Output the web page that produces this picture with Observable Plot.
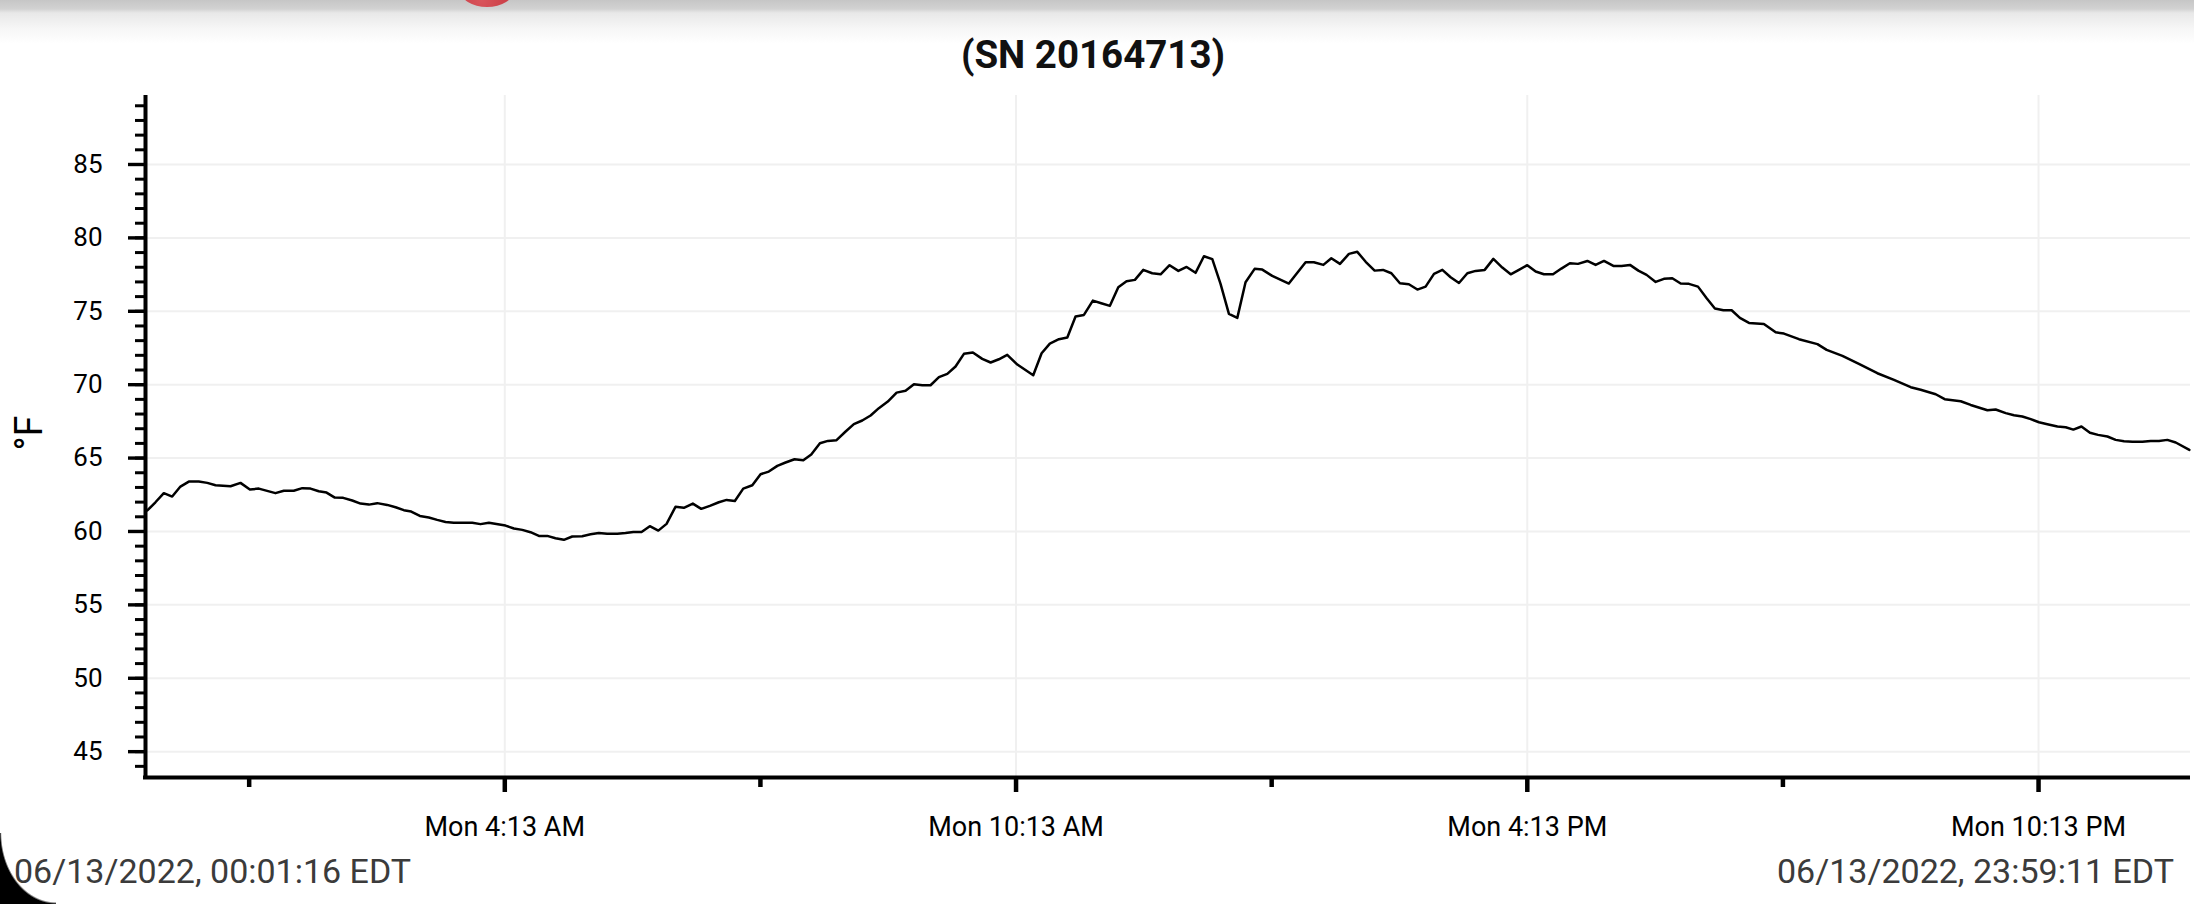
<!DOCTYPE html>
<html>
<head>
<meta charset="utf-8">
<script src="https://cdn.jsdelivr.net/npm/d3@7"></script>
<script src="https://cdn.jsdelivr.net/npm/@observablehq/plot@0.6"></script>
<style>
html,body{margin:0;padding:0;background:#fff;width:2194px;height:904px;overflow:hidden;font-family:Roboto,sans-serif;}
#wrap{position:relative;width:2194px;height:904px;overflow:hidden;}
#chart{position:absolute;left:0;top:0;}
.topbar{position:absolute;left:0;top:0;width:2194px;height:44px;background:linear-gradient(#c6c6c6 0px,#d2d2d2 9px,#e8e8e8 13px,#f6f6f6 28px,#ffffff 44px);}
.dot{position:absolute;left:460px;top:-27px;width:54px;height:34px;border-radius:50%;background:radial-gradient(circle at 40% 80%,#d9545b,#c2323b);}
.title{position:absolute;top:33px;left:0;width:2186px;text-align:center;font-family:Roboto,sans-serif;font-weight:700;font-size:38.5px;line-height:44px;color:#111;}
.ylab{position:absolute;left:29px;top:433px;transform:translate(-50%,-50%) rotate(-90deg);font-family:Roboto,sans-serif;font-size:38px;line-height:40px;color:#000;white-space:nowrap;}
.foot{position:absolute;top:851px;font-family:Roboto,sans-serif;font-size:34px;line-height:40px;color:#3b3b3b;white-space:nowrap;}
.corner{position:absolute;left:0;bottom:0;width:56px;height:71px;background:radial-gradient(ellipse 56px 71px at 100% 0%,rgba(0,0,0,0) 97%,#000 100%);}
</style>
</head>
<body>
<div id="wrap">
  <div id="chart"></div>
  <div class="topbar"></div>
  <div class="dot"></div>
  <div class="title">(SN 20164713)</div>
  <div class="ylab">°F</div>
  <div class="foot" style="left:14px;">06/13/2022, 00:01:16 EDT</div>
  <div class="foot" style="right:20px;">06/13/2022, 23:59:11 EDT</div>
  <div class="corner"></div>
</div>
<script>
// minutes after midnight, 06/13/2022
const minutes = [
  1.3, 7.0, 12.9, 18.8, 24.6, 30.5, 37.5, 43.5, 49.3, 59.9, 66.9, 73.5, 79.8, 91.5, 97.4, 104.4,
  110.4, 116.2, 122.0, 127.5, 133.3, 139.2, 145.6, 151.4, 157.3, 163.2, 170.2, 176.1, 181.9, 187.1,
  193.2, 199.5, 205.4, 211.3, 217.1, 230.1, 235.9, 241.8, 253.5, 259.4, 265.3, 271.1, 277.0, 282.9,
  288.7, 294.6, 300.5, 307.5, 313.4, 319.2, 325.1, 332.2, 338.0, 343.5, 349.3, 355.1, 361.1, 366.9,
  373.2, 379.1, 385.4, 391.3, 397.4, 403.7, 409.2, 415.0, 420.9, 427.3, 433.1, 438.9, 444.9, 450.7,
  457.0, 463.2, 468.8, 474.9, 480.5, 486.6, 493.0, 498.8, 504.7, 510.6, 516.4, 522.7, 528.9, 535.2,
  541.1, 547.0, 552.8, 558.7, 564.6, 570.4, 576.3, 582.6, 589.2, 595.1, 600.9, 606.8, 613.9, 625.1,
  631.0, 636.8, 643.2, 649.1, 654.9, 660.8, 667.1, 673.0, 679.1, 685.0, 690.8, 696.7, 702.6, 708.9,
  714.8, 721.1, 727.3, 733.1, 739.4, 745.3, 751.2, 757.0, 762.9, 768.8, 774.6, 781.0, 786.4, 793.4,
  805.1, 816.9, 822.7, 829.4, 835.0, 841.1, 847.4, 853.3, 859.2, 865.5, 871.4, 877.3, 883.3, 889.6,
  895.6, 901.4, 907.3, 913.2, 919.0, 924.9, 930.8, 936.6, 943.0, 949.1, 955.4, 961.3, 967.1, 973.0,
  978.9, 984.7, 991.1, 997.0, 1003.0, 1008.7, 1015.3, 1021.1, 1027.0, 1033.6, 1039.4, 1045.3, 1051.2,
  1057.0, 1063.4, 1069.2, 1075.1, 1081.0, 1086.8, 1093.2, 1099.3, 1105.1, 1111.1, 1116.9, 1122.7,
  1129.1, 1139.6, 1147.9, 1153.7, 1164.3, 1177.3, 1183.8, 1194.9, 1206.5, 1219.5, 1231.2, 1243.0,
  1250.0, 1260.6, 1266.9, 1278.2, 1285.2, 1297.0, 1302.8, 1309.9, 1315.7, 1321.6, 1327.5, 1333.3,
  1339.2, 1346.3, 1352.1, 1357.5, 1363.2, 1369.2, 1374.9, 1381.5, 1387.3, 1393.2, 1399.1, 1406.1,
  1412.0, 1417.8, 1423.7, 1429.6, 1439.2
];
const tempF = [
  61.43, 61.99, 62.61, 62.38, 63.06, 63.40, 63.40, 63.31, 63.15, 63.08, 63.31, 62.86, 62.92, 62.61, 62.77, 62.77,
  62.95, 62.92, 62.74, 62.65, 62.31, 62.29, 62.11, 61.90, 61.83, 61.93, 61.81, 61.65, 61.45, 61.36,
  61.06, 60.95, 60.79, 60.65, 60.59, 60.59, 60.50, 60.59, 60.40, 60.20, 60.11, 59.95, 59.70, 59.70,
  59.54, 59.43, 59.66, 59.68, 59.81, 59.90, 59.84, 59.84, 59.90, 59.97, 59.97, 60.36, 60.06, 60.52,
  61.68, 61.61, 61.90, 61.54, 61.74, 61.99, 62.15, 62.08, 62.92, 63.15, 63.90, 64.08, 64.47, 64.70,
  64.92, 64.85, 65.24, 66.01, 66.17, 66.22, 66.81, 67.31, 67.56, 67.90, 68.40, 68.85, 69.46, 69.58,
  70.03, 69.96, 69.96, 70.51, 70.74, 71.24, 72.10, 72.19, 71.76, 71.51, 71.73, 72.03, 71.37, 70.64,
  72.14, 72.80, 73.10, 73.21, 74.64, 74.75, 75.73, 75.55, 75.37, 76.64, 77.05, 77.14, 77.82, 77.59,
  77.52, 78.14, 77.75, 78.02, 77.62, 78.75, 78.55, 76.87, 74.82, 74.55, 76.98, 77.89, 77.84, 77.41,
  76.89, 78.34, 78.34, 78.16, 78.61, 78.23, 78.91, 79.05, 78.37, 77.77, 77.82, 77.59, 76.91, 76.84,
  76.48, 76.68, 77.55, 77.82, 77.32, 76.93, 77.59, 77.75, 77.82, 78.57, 77.98, 77.52, 77.82, 78.14,
  77.71, 77.52, 77.52, 77.91, 78.27, 78.23, 78.43, 78.16, 78.43, 78.09, 78.09, 78.16, 77.77,
  77.48, 77.00, 77.21, 77.25, 76.89, 76.87, 76.68, 75.89, 75.19, 75.07, 75.07, 74.55,
  74.21, 74.14, 73.57, 73.48, 73.10, 72.76, 72.37, 71.96, 71.42, 70.78, 70.33, 69.83,
  69.65, 69.35, 69.01, 68.87, 68.62, 68.26, 68.31, 68.06, 67.92, 67.83, 67.65, 67.44,
  67.31, 67.15, 67.10, 66.94, 67.15, 66.72, 66.58, 66.47, 66.24, 66.15, 66.11, 66.11,
  66.17, 66.17, 66.24, 66.06, 65.56
];
const xTickMinutes = [253, 613, 973, 1333];
const xTickLabels = ["Mon 4:13 AM", "Mon 10:13 AM", "Mon 4:13 PM", "Mon 10:13 PM"];
const xMinorMinutes = [73, 433, 793, 1153];
const yTicks = [45, 50, 55, 60, 65, 70, 75, 80, 85];
const yMinorTicks = d3.range(44, 90, 1);

const base = new Date(2022, 5, 13, 0, 0, 0).getTime();
const toDate = m => new Date(base + m * 60000);
const data = minutes.map((m, i) => ({t: toDate(m), v: tempF[i]}));
const xMajor = xTickMinutes.map(toDate);
const xMinor = xMinorMinutes.map(toDate);
const labelMap = new Map(xMajor.map((d, i) => [+d, xTickLabels[i]]));
const yDomain = [43.24, 89.70];

const chart = Plot.plot({
  width: 2194,
  height: 904,
  marginLeft: 145,
  marginRight: 4,
  marginTop: 95,
  marginBottom: 127,
  style: {fontFamily: "Roboto, sans-serif", color: "#000", background: "transparent", overflow: "visible"},
  x: {type: "time", domain: [toDate(0), toDate(1440)]},
  y: {domain: yDomain},
  marks: [
    Plot.gridY(yTicks, {stroke: "#f0f0f0", strokeOpacity: 1, strokeWidth: 2}),
    Plot.gridX(xMajor, {stroke: "#f0f0f0", strokeOpacity: 1, strokeWidth: 2}),
    Plot.line(data, {x: "t", y: "v", stroke: "#000", strokeWidth: 2.5, strokeLinejoin: "round"}),
    Plot.axisY(yMinorTicks, {tickSize: 10, strokeWidth: 3, tickFormat: () => "", label: null}),
    Plot.axisY(yTicks, {tickSize: 17, tickPadding: 26, strokeWidth: 3.4, fontSize: 26, label: null}),
    Plot.axisX(xMinor, {tickSize: 10, strokeWidth: 4.5, tickFormat: () => "", label: null}),
    Plot.axisX(xMajor, {tickSize: 15, tickPadding: 24, strokeWidth: 4.5, fontSize: 27, tickFormat: d => labelMap.get(+d), label: null}),
    Plot.ruleX([toDate(0)], {stroke: "#000", strokeWidth: 4}),
    Plot.ruleY([yDomain[0]], {x1: toDate(-1.4), x2: toDate(1440), stroke: "#000", strokeWidth: 4})
  ]
});
document.getElementById("chart").appendChild(chart);
</script>
</body>
</html>
